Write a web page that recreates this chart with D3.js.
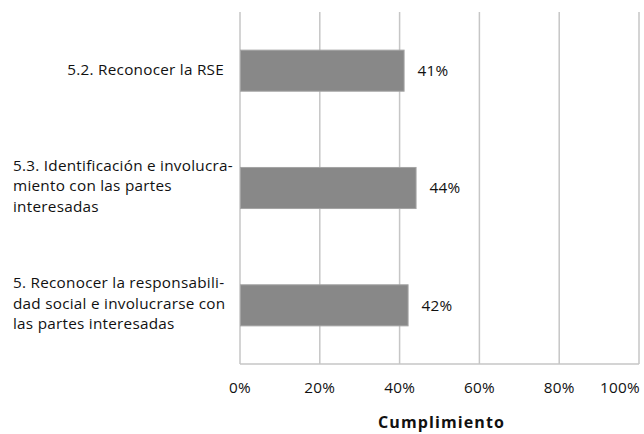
<!DOCTYPE html>
<html>
<head>
<meta charset="utf-8">
<script src="https://cdn.jsdelivr.net/npm/d3@7"></script>
<style>
  html, body { margin: 0; padding: 0; background: #fff; }
  svg { display: block; font-family: "Open Sans", Lato, sans-serif; }
</style>
</head>
<body>
<svg id="chart" width="644" height="434"></svg>
<script>
// ---- data ----
const categories = [
  ["5.2. Reconocer la RSE"],
  ["5.3. Identificación e involucra-", "miento con las partes", "interesadas"],
  ["5. Reconocer la responsabili-", "dad social e involucrarse con", "las partes interesadas"]
];
const values = [0.41, 0.44, 0.42];
const valueLabels = ["41%", "44%", "42%"];
const tickValues = [0, 0.2, 0.4, 0.6, 0.8, 1.0];
const tickLabels = ["0%", "20%", "40%", "60%", "80%", "100%"];
const axisTitle = "Cumplimiento";

// ---- layout ----
const W = 644, H = 434;
const plot = { left: 240, right: 639, top: 12, bottom: 364 };
const fs = 15.3;
const ls = 0.25;
const svg = d3.select("#chart");

const x = d3.scaleLinear().domain([0, 1]).range([plot.left, plot.right]);
const y = d3.scaleBand().domain(d3.range(categories.length))
  .range([plot.top, plot.bottom]).paddingInner(0).paddingOuter(0);
const barFrac = 0.35;

// gridlines
svg.append("g").selectAll("line").data(tickValues).join("line")
  .attr("x1", d => x(d)).attr("x2", d => x(d))
  .attr("y1", plot.top).attr("y2", plot.bottom)
  .attr("stroke", "#c6c6c6").attr("stroke-width", 1.5);
// bottom axis line
svg.append("line")
  .attr("x1", plot.left).attr("x2", plot.right)
  .attr("y1", plot.bottom).attr("y2", plot.bottom)
  .attr("stroke", "#c6c6c6").attr("stroke-width", 1.5);

// bars
const bh = y.bandwidth() * barFrac;
svg.append("g").selectAll("rect").data(values).join("rect")
  .attr("x", x(0) + 0.5)
  .attr("y", (d, i) => y(i) + (y.bandwidth() - bh) / 2)
  .attr("width", d => x(d) - x(0))
  .attr("height", bh)
  .attr("fill", "#888888")
  .attr("stroke", "#a4a4a4").attr("stroke-width", 1);

// value labels
svg.append("g").selectAll("text").data(values).join("text")
  .attr("x", d => x(d) + 14)
  .attr("y", (d, i) => y(i) + y.bandwidth() / 2)
  .attr("dy", "0.35em")
  .attr("font-size", fs).attr("letter-spacing", ls).attr("fill", "#111")
  .text((d, i) => valueLabels[i]);

// category labels (wrapped lines, left aligned within a block right-aligned to the axis)
const lineH = 20.5;
const labelRight = 224;
const labelMinLeft = 13;
categories.forEach((lines, i) => {
  const g = svg.append("g");
  const cy = y(i) + y.bandwidth() / 2 - (lines.length > 1 ? 2 : 1);
  const t = g.selectAll("text").data(lines).join("text")
    .attr("y", (d, j) => cy + (j - (lines.length - 1) / 2) * lineH)
    .attr("dy", "0.35em")
    .attr("font-size", fs).attr("letter-spacing", ls).attr("fill", "#111")
    .text(d => d);
  let maxW = 0;
  t.each(function () { maxW = Math.max(maxW, this.getComputedTextLength()); });
  t.attr("x", Math.max(labelMinLeft, labelRight - maxW));
});

// tick labels
svg.append("g").selectAll("text").data(tickValues).join("text")
  .attr("y", 388).attr("dy", "0.35em")
  .attr("font-size", fs).attr("letter-spacing", ls).attr("fill", "#111")
  .text((d, i) => tickLabels[i])
  .each(function (d) {
    const w = this.getComputedTextLength();
    let cx = x(d);
    if (cx + w / 2 > W - 4) cx = W - 4 - w / 2;
    d3.select(this).attr("x", cx).attr("text-anchor", "middle");
  });

// axis title
svg.append("text")
  .attr("x", (plot.left + plot.right) / 2 + 2).attr("y", 428)
  .attr("text-anchor", "middle")
  .attr("font-size", 16).attr("letter-spacing", 1.1).attr("font-weight", "bold").attr("fill", "#111")
  .text(axisTitle);
</script>
</body>
</html>
